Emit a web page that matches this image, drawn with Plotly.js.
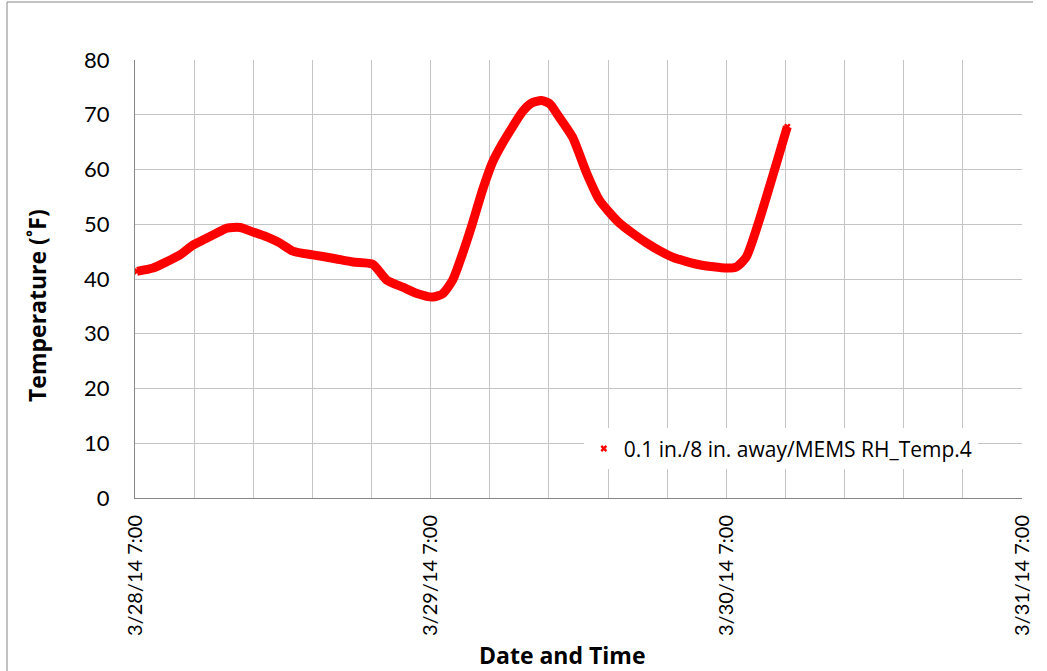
<!DOCTYPE html>
<html>
<head>
<meta charset="utf-8">
<script src="https://cdn.plot.ly/plotly-3.0.1.min.js"></script>
<style>html,body{margin:0;padding:0;background:#fff;}#chart{width:1047px;height:671px;}</style>
</head>
<body>
<div id="chart"></div>
<script>
const times = [
  '2014-03-28 07:10','2014-03-28 08:28','2014-03-28 09:26','2014-03-28 10:39','2014-03-28 11:42',
  '2014-03-28 12:41','2014-03-28 13:39','2014-03-28 14:28','2014-03-28 15:31','2014-03-28 16:34',
  '2014-03-28 17:42','2014-03-28 18:45','2014-03-28 19:49','2014-03-28 21:26','2014-03-28 23:03',
  '2014-03-29 00:41','2014-03-29 02:18','2014-03-29 03:26','2014-03-29 04:44','2014-03-29 05:57',
  '2014-03-29 07:10','2014-03-29 07:58','2014-03-29 08:47','2014-03-29 09:36','2014-03-29 10:24',
  '2014-03-29 11:13','2014-03-29 12:02','2014-03-29 12:50','2014-03-29 13:39','2014-03-29 14:28',
  '2014-03-29 15:10','2014-03-29 16:00','2014-03-29 16:40','2014-03-29 17:18','2014-03-29 18:31',
  '2014-03-29 19:39','2014-03-29 20:42','2014-03-29 22:20','2014-03-30 00:31','2014-03-30 02:37',
  '2014-03-30 04:49','2014-03-30 07:00','2014-03-30 07:49','2014-03-30 08:37','2014-03-30 09:41',
  '2014-03-30 10:44','2014-03-30 11:57'
];
const tempF = [
  41.4, 42.0, 43.0, 44.4, 46.2,
  47.3, 48.4, 49.3, 49.4, 48.6,
  47.7, 46.6, 45.1, 44.4, 43.8,
  43.1, 42.7, 39.8, 38.5, 37.3,
  36.7, 37.3, 39.8, 44.7, 50.2,
  56.3, 61.4, 64.8, 67.8, 70.6,
  72.1, 72.6, 72.0, 70.0, 65.9,
  59.4, 54.4, 50.2, 46.6, 44.0,
  42.6, 42.0, 42.2, 44.0, 50.8,
  58.6, 67.8
];
const seriesName = '0.1 in./8 in. away/MEMS RH_Temp.4';
const xRange = ['2014-03-28 07:00', '2014-03-31 07:00'];
const yTicks = [0, 10, 20, 30, 40, 50, 60, 70, 80];
const xTitle = 'Date and Time';
const yTitle = 'Temperature (˚F)';

const red = '#ff0000';
const traces = [
  {x: times, y: tempF, type: 'scatter', mode: 'markers', name: seriesName,
   marker: {symbol: 'x', size: 6, color: red}, showlegend: true},
  {x: times, y: tempF, type: 'scatter', mode: 'lines', name: seriesName,
   line: {color: red, width: 9, shape: 'spline', smoothing: 0.6}, showlegend: false}
];

const lato = 'Lato, "Open Sans", "Liberation Sans", sans-serif';
const osans = '"Open Sans", Lato, "Liberation Sans", sans-serif';
const grid = '#c4c4c4';
const axisLine = '#868686';
const layout = {
  width: 1047, height: 671,
  margin: {l: 135, r: 25, t: 60, b: 173},
  paper_bgcolor: '#ffffff', plot_bgcolor: '#ffffff',
  font: {family: lato, color: '#000000'},
  showlegend: true,
  legend: {x: 0.506, y: 0.159, xanchor: 'left', yanchor: 'top', bgcolor: '#ffffff',
           borderwidth: 0, font: {size: 21, family: osans, color: '#000000'}},
  xaxis: {
    type: 'date', range: xRange,
    tick0: xRange[0], dtick: 86400000, tickformat: '%-m/%-d/%y %-H:%M',
    tickangle: -90, tickfont: {size: 20, family: lato},
    ticklabelstandoff: 8,
    showgrid: true, gridcolor: grid, gridwidth: 1,
    minor: {dtick: 17280000, tick0: xRange[0], showgrid: true, gridcolor: grid, gridwidth: 1},
    showline: true, linecolor: axisLine, linewidth: 1,
    ticks: '', zeroline: false, fixedrange: true
  },
  yaxis: {
    range: [0, 80], tickvals: yTicks, ticktext: yTicks.map(String),
    tickfont: {size: 22, family: lato},
    ticklabelstandoff: 20,
    showgrid: true, gridcolor: grid, gridwidth: 1,
    showline: true, linecolor: axisLine, linewidth: 1,
    ticks: '', zeroline: false, fixedrange: true
  },
  annotations: [
    {text: '<b>' + yTitle + '</b>', xref: 'paper', yref: 'paper', x: -0.1105, y: 0.4406,
     xanchor: 'center', yanchor: 'middle', textangle: -90, showarrow: false,
     font: {size: 23, family: osans, color: '#000000'}},
    {text: '<b>' + xTitle + '</b>', xref: 'paper', yref: 'paper', x: 0.4814, y: -0.3584,
     xanchor: 'center', yanchor: 'middle', showarrow: false,
     font: {size: 23, family: osans, color: '#000000'}}
  ],
  shapes: [
    {type: 'line', xref: 'paper', yref: 'paper', x0: -0.1443, x1: 1.0124, y0: 1.1324, y1: 1.1324,
     line: {color: axisLine, width: 1}, layer: 'below'},
    {type: 'line', xref: 'paper', yref: 'paper', x0: -0.1443, x1: -0.1443, y0: -0.6, y1: 1.1324,
     line: {color: axisLine, width: 1}, layer: 'below'}
  ]
};

Plotly.newPlot('chart', traces, layout, {displayModeBar: false, staticPlot: true});
</script>
</body>
</html>
